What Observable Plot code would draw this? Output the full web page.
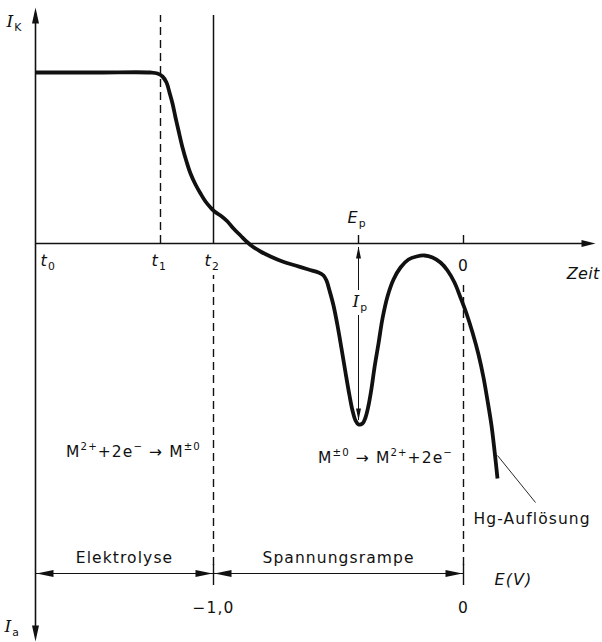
<!DOCTYPE html>
<html><head><meta charset="utf-8">
<script src="https://cdn.jsdelivr.net/npm/d3@7"></script>
<script src="https://cdn.jsdelivr.net/npm/@observablehq/plot@0.6"></script>
<style>html,body{margin:0;padding:0;background:#fff}</style>
</head><body><div id="chart"></div>
<script>
// ---- data (schematic units: time along x, current along y; I_K up, I_a down) ----
const curveX = [0,25,65,115,122,127,131,134,137,140,143,147,151,155,160,165,170,175,179,185,192,198,205,211,217,225,235,247,260,273,283,288,291,294,298,302,306,310,314,317,320,323,327,330,333,336,339,343,347,352,358,365,373,381,389,397,405,412,419,425,431,437,443,448,452,456,459,462];
const curveY = [171,171,171,171,170,167,161,151,140,126,113,96,82,70,59,50,42,36,32,28,22,15,8,2,-3,-8,-13,-18,-22,-26,-29,-32,-37,-47,-62,-82,-105,-129,-152,-167,-177,-181,-180,-174,-162,-145,-124,-100,-75,-53,-36,-24,-16,-13,-12,-14,-19,-27,-39,-54,-70,-89,-111,-134,-157,-182,-207,-235];
const timeLabels = ["~{t}_{0}", "~{t}_{1}", "~{t}_{2}"];
const timeX = [0, 125, 178];
const peakX = 323;          // E_p
const peakY = -181;         // peak current minimum
const potentialLabels = ["−1,0", "0"];
const potentialX = [178, 428];
const phaseLabels = ["Elektrolyse", "Spannungsrampe"];
const phaseStart = [0, 178];
const phaseEnd = [178, 428];
const reactionLabels = ["M^{2+}+2e^{−} → M^{±0}", "M^{±0} → M^{2+}+2e^{−}"];
const axisLabels = {up: "!{I}_{K}", down: "!{I}_{a}", time: "Zeit", potential: "E(V)"};

// ---- helpers ----
const ink = "#111";
const font = "'DejaVu Sans',sans-serif";
function head(dir, L = 15, w = 6) {
  return {draw(ctx) {
    const pts = {up: [[0,0],[w/2,L],[-w/2,L]], down: [[0,0],[w/2,-L],[-w/2,-L]],
                 right: [[0,0],[-L,w/2],[-L,-w/2]], left: [[0,0],[L,w/2],[L,-w/2]]}[dir];
    ctx.moveTo(...pts[0]); ctx.lineTo(...pts[1]); ctx.lineTo(...pts[2]); ctx.closePath();
  }};
}
const curve = curveX.map((x, i) => ({x, y: curveY[i]}));
const phases = phaseLabels.map((label, i) => ({label, start: phaseStart[i], end: phaseEnd[i], mid: (phaseStart[i] + phaseEnd[i]) / 2}));
const times = timeLabels.map((label, i) => ({label, x: timeX[i]}));
const pots = potentialLabels.map((label, i) => ({label, x: potentialX[i]}));
const dash = "8,5";
const T = (data, o) => Plot.text(data, {fill: ink, fontSize: 15.5, lineAnchor: "bottom", ...o});

const plot = Plot.plot({
  width: 602, height: 642, margin: 0,
  x: {domain: [-35, 567], axis: null},
  y: {domain: [-399, 243], axis: null},
  style: {fontFamily: font, background: "#fff", letterSpacing: "1.1px"},
  marks: [
    // axes
    Plot.ruleY([0], {x1: 0, x2: 552, stroke: ink, strokeWidth: 1.6}),
    Plot.ruleX([0], {y1: -392, y2: 230, stroke: ink, strokeWidth: 1.6}),
    Plot.dot([0], {x: 0, y: 236, symbol: head("up", 16, 7), fill: ink, stroke: null}),
    Plot.dot([0], {x: 0, y: -398, symbol: head("down", 16, 7), fill: ink, stroke: null}),
    Plot.dot([0], {x: 560, y: 0, symbol: head("right", 14, 7), fill: ink, stroke: null}),
    // time markers
    Plot.ruleX([timeX[1]], {y1: 0, y2: 228, stroke: ink, strokeWidth: 1.4, strokeDasharray: dash}),
    Plot.ruleX([timeX[2]], {y1: 0, y2: 228, stroke: ink, strokeWidth: 1.5}),
    Plot.ruleX([timeX[2]], {y1: -322, y2: -32, stroke: ink, strokeWidth: 1.4, strokeDasharray: dash}),
    Plot.ruleX([potentialX[1]], {y1: -322, y2: -42, stroke: ink, strokeWidth: 1.4, strokeDasharray: dash}),
    Plot.ruleX([peakX, potentialX[1]], {y1: 0, y2: 8, stroke: ink, strokeWidth: 1.4}),
    T(times, {x: (d, i) => d.x + [5, -9, -9][i], y: -22, text: "label", textAnchor: "start", fontSize: 16}),
    T(["0"], {x: potentialX[1], y: -27, text: d => d, textAnchor: "middle"}),
    T([axisLabels.time], {x: 564, y: -35, text: d => d, textAnchor: "end", fontStyle: "italic", fontSize: 16}),
    T([axisLabels.up], {x: -29, y: 217, text: d => d, textAnchor: "start", fontSize: 17}),
    T([axisLabels.down], {x: -31, y: -388, text: d => d, textAnchor: "start", fontSize: 17}),
    // curve
    Plot.line(curve, {x: "x", y: "y", curve: "catmull-rom", stroke: ink, strokeWidth: 3.8, strokeLinejoin: "round", strokeLinecap: "butt"}),
    // peak annotation
    Plot.ruleX([peakX], {y1: -4, y2: -47, stroke: ink, strokeWidth: 1}),
    Plot.ruleX([peakX], {y1: peakY + 4, y2: -72, stroke: ink, strokeWidth: 1}),
    Plot.dot([0], {x: peakX, y: -3, symbol: head("up", 12, 5), fill: ink, stroke: null}),
    Plot.dot([0], {x: peakX, y: peakY + 4, symbol: head("down", 12, 5), fill: ink, stroke: null}),
    T(["~{E}_{p}"], {x: 312, y: 21, text: d => d, textAnchor: "start", fontSize: 16}),
    T(["!{I}_{p}"], {x: 317, y: -63, text: d => d, textAnchor: "start", fontSize: 17}),
    // reactions
    T([reactionLabels[0]], {x: 98, y: -213, text: d => d, textAnchor: "middle"}),
    T([reactionLabels[1]], {x: 350, y: -219, text: d => d, textAnchor: "middle"}),
    // Hg dissolution
    Plot.link([0], {x1: 462, y1: -212, x2: 500, y2: -259, stroke: ink, strokeWidth: 0.9}),
    T(["Hg-Auflösung"], {x: 438, y: -280, text: d => d, textAnchor: "start"}),
    // phases / potential scale
    Plot.ruleY(phases, {x1: "start", x2: "end", y: () => -330, stroke: ink, strokeWidth: 1.2}),
    Plot.dot(phases, {x: d => d.start + 1, y: -330, symbol: head("left", 17, 7), fill: ink, stroke: null}),
    Plot.dot(phases, {x: d => d.end - 1, y: -330, symbol: head("right", 17, 7), fill: ink, stroke: null}),
    Plot.ruleX(potentialX, {y1: -342, y2: -321, stroke: ink, strokeWidth: 1.4}),
    T(phases, {x: "mid", y: -319, text: "label", textAnchor: "middle"}),
    T(pots, {x: "x", y: -369, text: "label", textAnchor: "middle"}),
    T([axisLabels.potential], {x: 459, y: -341, text: d => d, textAnchor: "start", fontStyle: "italic", fontSize: 16})
  ]
});

// markup: ^{..} superscript, _{..} subscript, ~{..} italic, !{..} serif italic
d3.select(plot).selectAll("text").each(function() {
  const s = this.textContent;
  if (s === axisLabels.time) { this.setAttribute("letter-spacing", "0.3px"); return; }
  if (!/[\^_~!]\{/.test(s)) return;
  const fs = parseFloat(getComputedStyle(this).fontSize) || 15;
  this.textContent = "";
  const re = /([\^_~!])\{([^}]*)\}|([^\^_~!]+)/g;
  let m, shift = 0;
  while ((m = re.exec(s))) {
    const t = d3.select(this).append("tspan");
    let target = 0;
    if (m[1] === "^") { target = -0.42 * fs; t.attr("font-size", 0.68 * fs); t.text(m[2]); }
    else if (m[1] === "_") { target = 0.28 * fs; t.attr("font-size", 0.72 * fs); t.text(m[2]); }
    else if (m[1] === "~") { t.attr("font-style", "italic").text(m[2]); }
    else if (m[1] === "!") { t.attr("font-style", "italic").attr("font-family", "'DejaVu Serif',serif").text(m[2]); }
    else t.text(m[3]);
    if (target !== shift) t.attr("dy", target - shift);
    shift = target;
  }
});
document.getElementById("chart").appendChild(plot);
</script>
</body></html>
